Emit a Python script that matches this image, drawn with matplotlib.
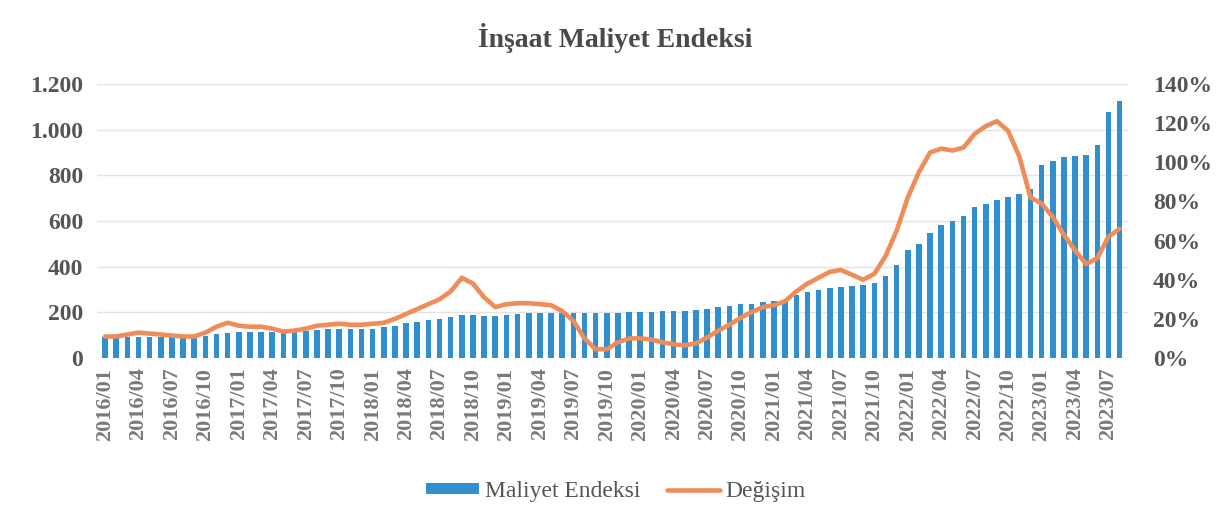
import matplotlib.pyplot as plt
import numpy as np
from matplotlib.ticker import FixedLocator, FuncFormatter

plt.rcParams['font.family'] = ['Liberation Serif', 'DejaVu Serif']

# monthly data 2016/01 - 2023/08
years = list(range(2016, 2024))
months = [f"{y}/{m:02d}" for y in years for m in range(1, 13)][:92]

# Maliyet Endeksi (left axis)
endeks = [90, 90, 90, 91, 91, 91, 91, 92, 94, 98, 104, 110,
          113, 114, 115, 115, 115, 116, 120, 122, 127, 128, 128, 127,
          128, 135, 142, 152, 159, 167, 170, 178, 189, 189, 185, 183,
          189, 194, 196, 196, 197, 196, 196, 196, 196, 196, 197, 200,
          203, 203, 204, 205, 206, 209, 215, 222, 228, 235, 238, 245,
          250, 254, 276, 291, 298, 305, 310, 316, 320, 330, 357, 408,
          474, 500, 547, 583, 602, 623, 661, 675, 690, 707, 719, 738,
          846, 861, 881, 886, 890, 934, 1076, 1124]

# Değişim, annual change in % (right axis)
degisim = [11, 11, 12, 13, 12.5, 12, 11.5, 11, 11, 13, 16, 18,
           16.5, 16, 16, 15, 13.5, 14, 15, 16.5, 17, 17.5, 17, 17,
           17.5, 18, 20, 22.5, 25, 27.5, 30, 34, 41, 38, 31, 26,
           27.5, 28, 28, 27.5, 27, 24, 19, 10, 4.5, 4.5, 8, 10,
           10, 9.5, 8, 7, 6.5, 7.5, 10.5, 14, 17, 20.5, 23.5, 26,
           27, 29, 34, 38, 41, 44, 45, 42.5, 40, 43, 52, 65,
           82, 95, 105, 107, 106, 107.5, 114.5, 118.5, 121, 116, 103, 82,
           79, 72, 63, 55, 48, 51, 62, 66]

x = np.arange(len(months))

fig = plt.figure(figsize=(12.25, 5.19), dpi=100)
ax = fig.add_axes([0.0792, 0.3102, 0.8416, 0.528])
ax2 = ax.twinx()

bar_color = '#2f8fcf'
line_color = '#ef8c58'

ax.bar(x, endeks, width=0.5, color=bar_color, label='Maliyet Endeksi', zorder=2)
ax2.plot(x, np.array(degisim) / 100, color=line_color, lw=3.3,
         solid_capstyle='round', solid_joinstyle='round', label='Değişim', zorder=3)

ax.set_xlim(-0.72, 91.75)
ax.set_ylim(0, 1200)
ax2.set_ylim(0, 1.4)
ax.yaxis.set_major_locator(FixedLocator(range(0, 1201, 200)))
ax2.yaxis.set_major_locator(FixedLocator(np.arange(0, 1.41, 0.2)))
ax.yaxis.set_major_formatter(FuncFormatter(lambda v, p: f"{int(v):,}".replace(',', '.')))
ax2.yaxis.set_major_formatter(FuncFormatter(lambda v, p: f"{v*100:.0f}%"))

ax.set_xticks(x[::3])
ax.set_xticklabels(months[::3], rotation=90, fontsize=16, fontweight='bold', color='#7a7a7a')

ax.grid(axis='y', color='#e3e3e3', lw=1, zorder=0)
ax.set_axisbelow(True)
for a in (ax, ax2):
    for s in a.spines.values():
        s.set_visible(False)
    a.tick_params(length=0)
ax.tick_params(axis='y', labelsize=17, labelcolor='#555555', pad=10)
ax2.tick_params(axis='y', labelsize=17, labelcolor='#555555', pad=18)
ax.tick_params(axis='x', pad=7)
for lbl in ax.get_yticklabels() + ax2.get_yticklabels():
    lbl.set_fontweight('bold')

ax2.set_zorder(ax.get_zorder() + 1)
ax2.patch.set_visible(False)

fig.suptitle('İnşaat Maliyet Endeksi', x=0.502, y=0.955, fontsize=20,
             fontweight='bold', color='#4a4a4a')

h1, l1 = ax.get_legend_handles_labels()
h2, l2 = ax2.get_legend_handles_labels()
fig.legend(h1 + h2, l1 + l2, loc='center', bbox_to_anchor=(0.503, 0.053), ncol=2,
           frameon=False, fontsize=17, handlelength=2.25, handleheight=0.35,
           columnspacing=1.1, handletextpad=0.25, labelcolor='#555555')

fig.savefig('out.png', dpi=100)
